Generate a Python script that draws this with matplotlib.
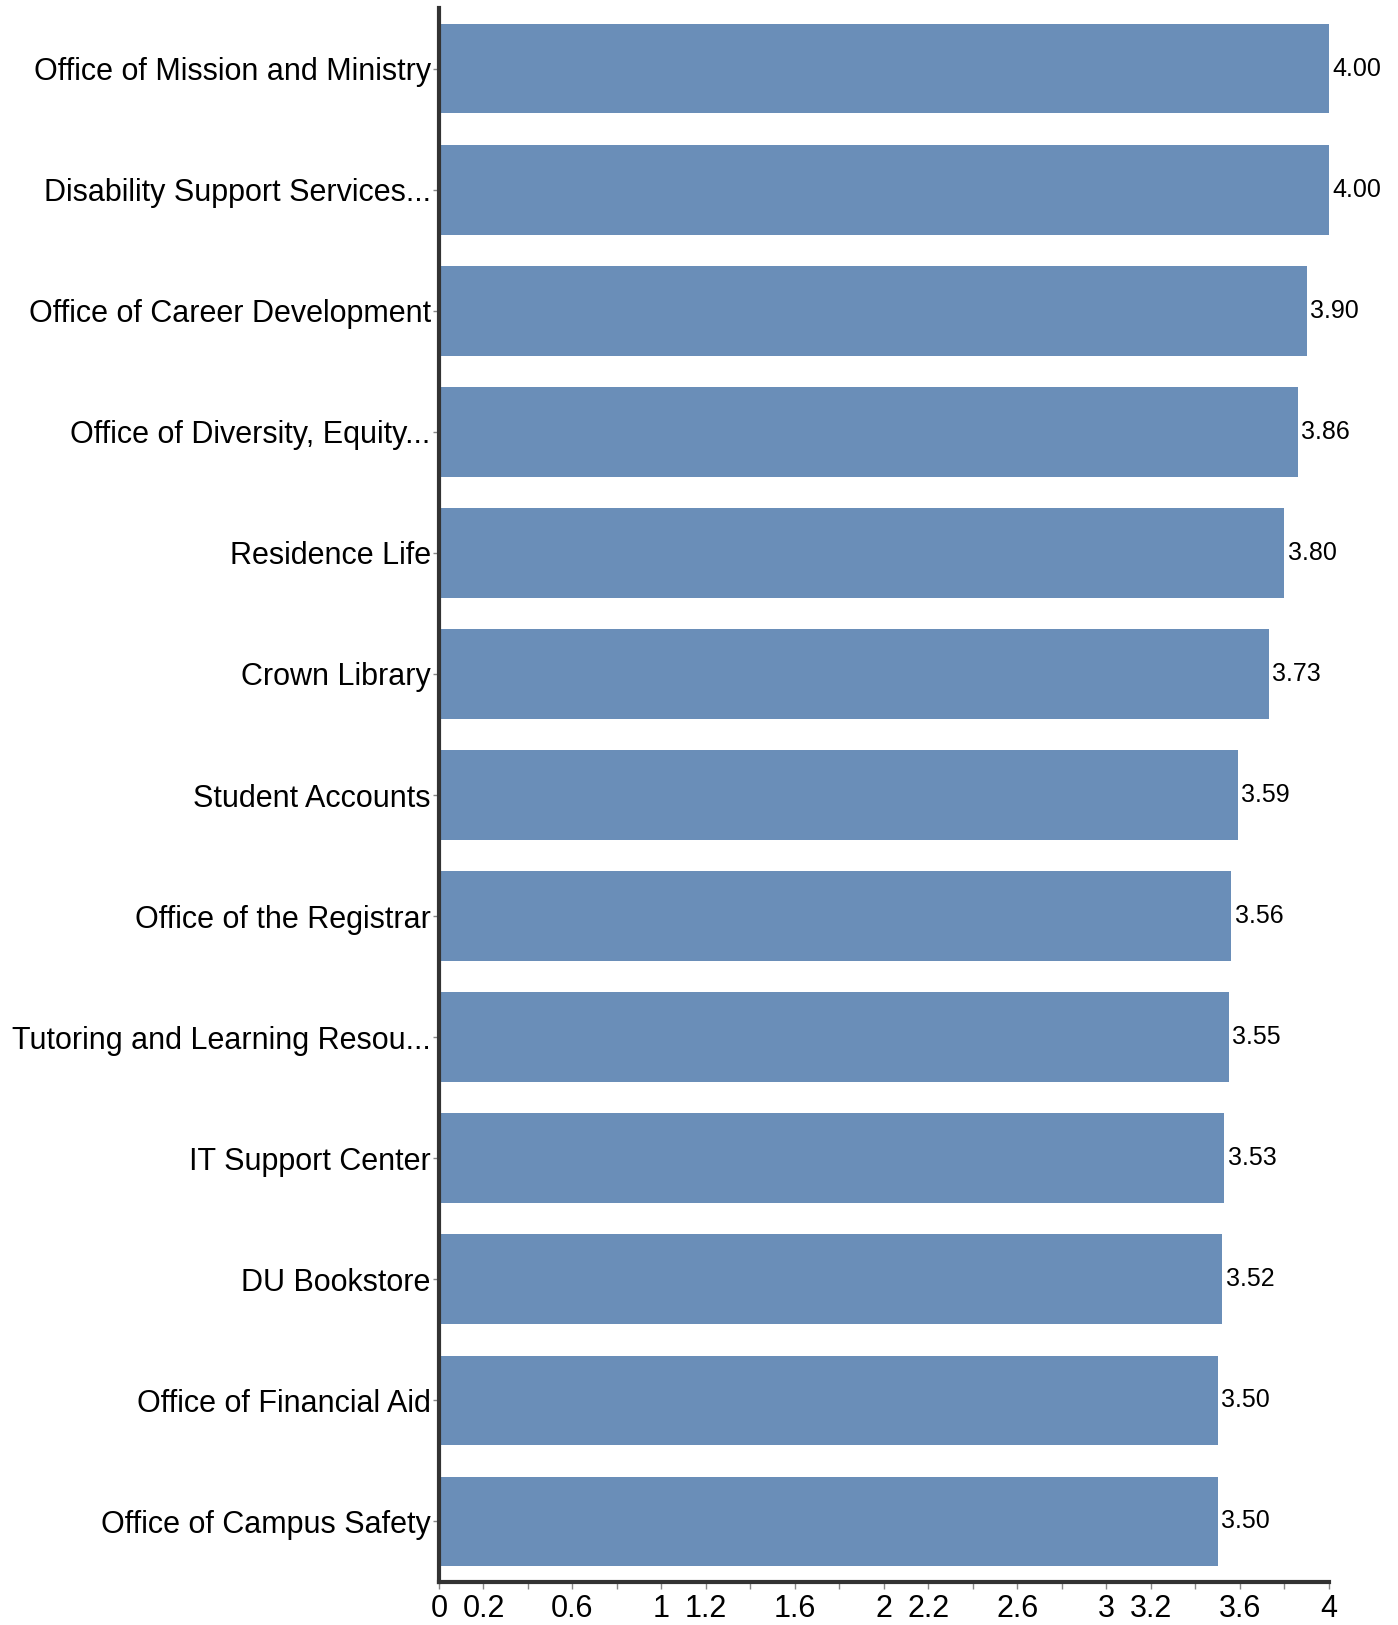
import matplotlib.pyplot as plt
import numpy as np

categories = [
    "Office of Mission and Ministry",
    "Disability Support Services...",
    "Office of Career Development",
    "Office of Diversity, Equity...",
    "Residence Life",
    "Crown Library",
    "Student Accounts",
    "Office of the Registrar",
    "Tutoring and Learning Resou...",
    "IT Support Center",
    "DU Bookstore",
    "Office of Financial Aid",
    "Office of Campus Safety",
]
scores = [4.00, 4.00, 3.90, 3.86, 3.80, 3.73, 3.59, 3.56, 3.55, 3.53, 3.52, 3.50, 3.50]
tick_values = [round(0.2 * i, 1) for i in range(21)]
shown_ticks = ["0", "0.2", "0.6", "1", "1.2", "1.6", "2", "2.2", "2.6", "3", "3.2", "3.6", "4"]

SANS = ["Liberation Sans", "DejaVu Sans"]
BAR = "#6a8eb8"
SPINE = "#333333"

fig = plt.figure(figsize=(13.98, 16.25), dpi=100)
ax = fig.add_axes([0.314, 0.0265, 0.6366, 0.9685])

y = np.arange(len(categories))
ax.barh(y, scores, height=0.74, color=BAR, edgecolor="none")
ax.set_ylim(len(categories) - 0.5, -0.5)
ax.set_xlim(0, 4)

for yi, v in zip(y, scores):
    ax.text(v + 0.016, yi, f"{v:.2f}", va="center", ha="left",
            fontsize=18, family=SANS, color="black")

ax.set_yticks(y)
ax.set_yticklabels(categories, fontsize=22, family=SANS)

def fmt(t):
    s = f"{t:g}"
    return s if s in shown_ticks else ""

ax.set_xticks(tick_values)
ax.set_xticklabels([fmt(t) for t in tick_values], fontsize=22, family=SANS)

ax.tick_params(axis="y", length=4, width=1, color="#888888", pad=2)
ax.tick_params(axis="x", length=5, width=1, color="#888888", pad=4)

for side in ("top", "right"):
    ax.spines[side].set_visible(False)
for side in ("left", "bottom"):
    ax.spines[side].set_color(SPINE)
    ax.spines[side].set_linewidth(3)

fig.savefig("out.png", dpi=100)
